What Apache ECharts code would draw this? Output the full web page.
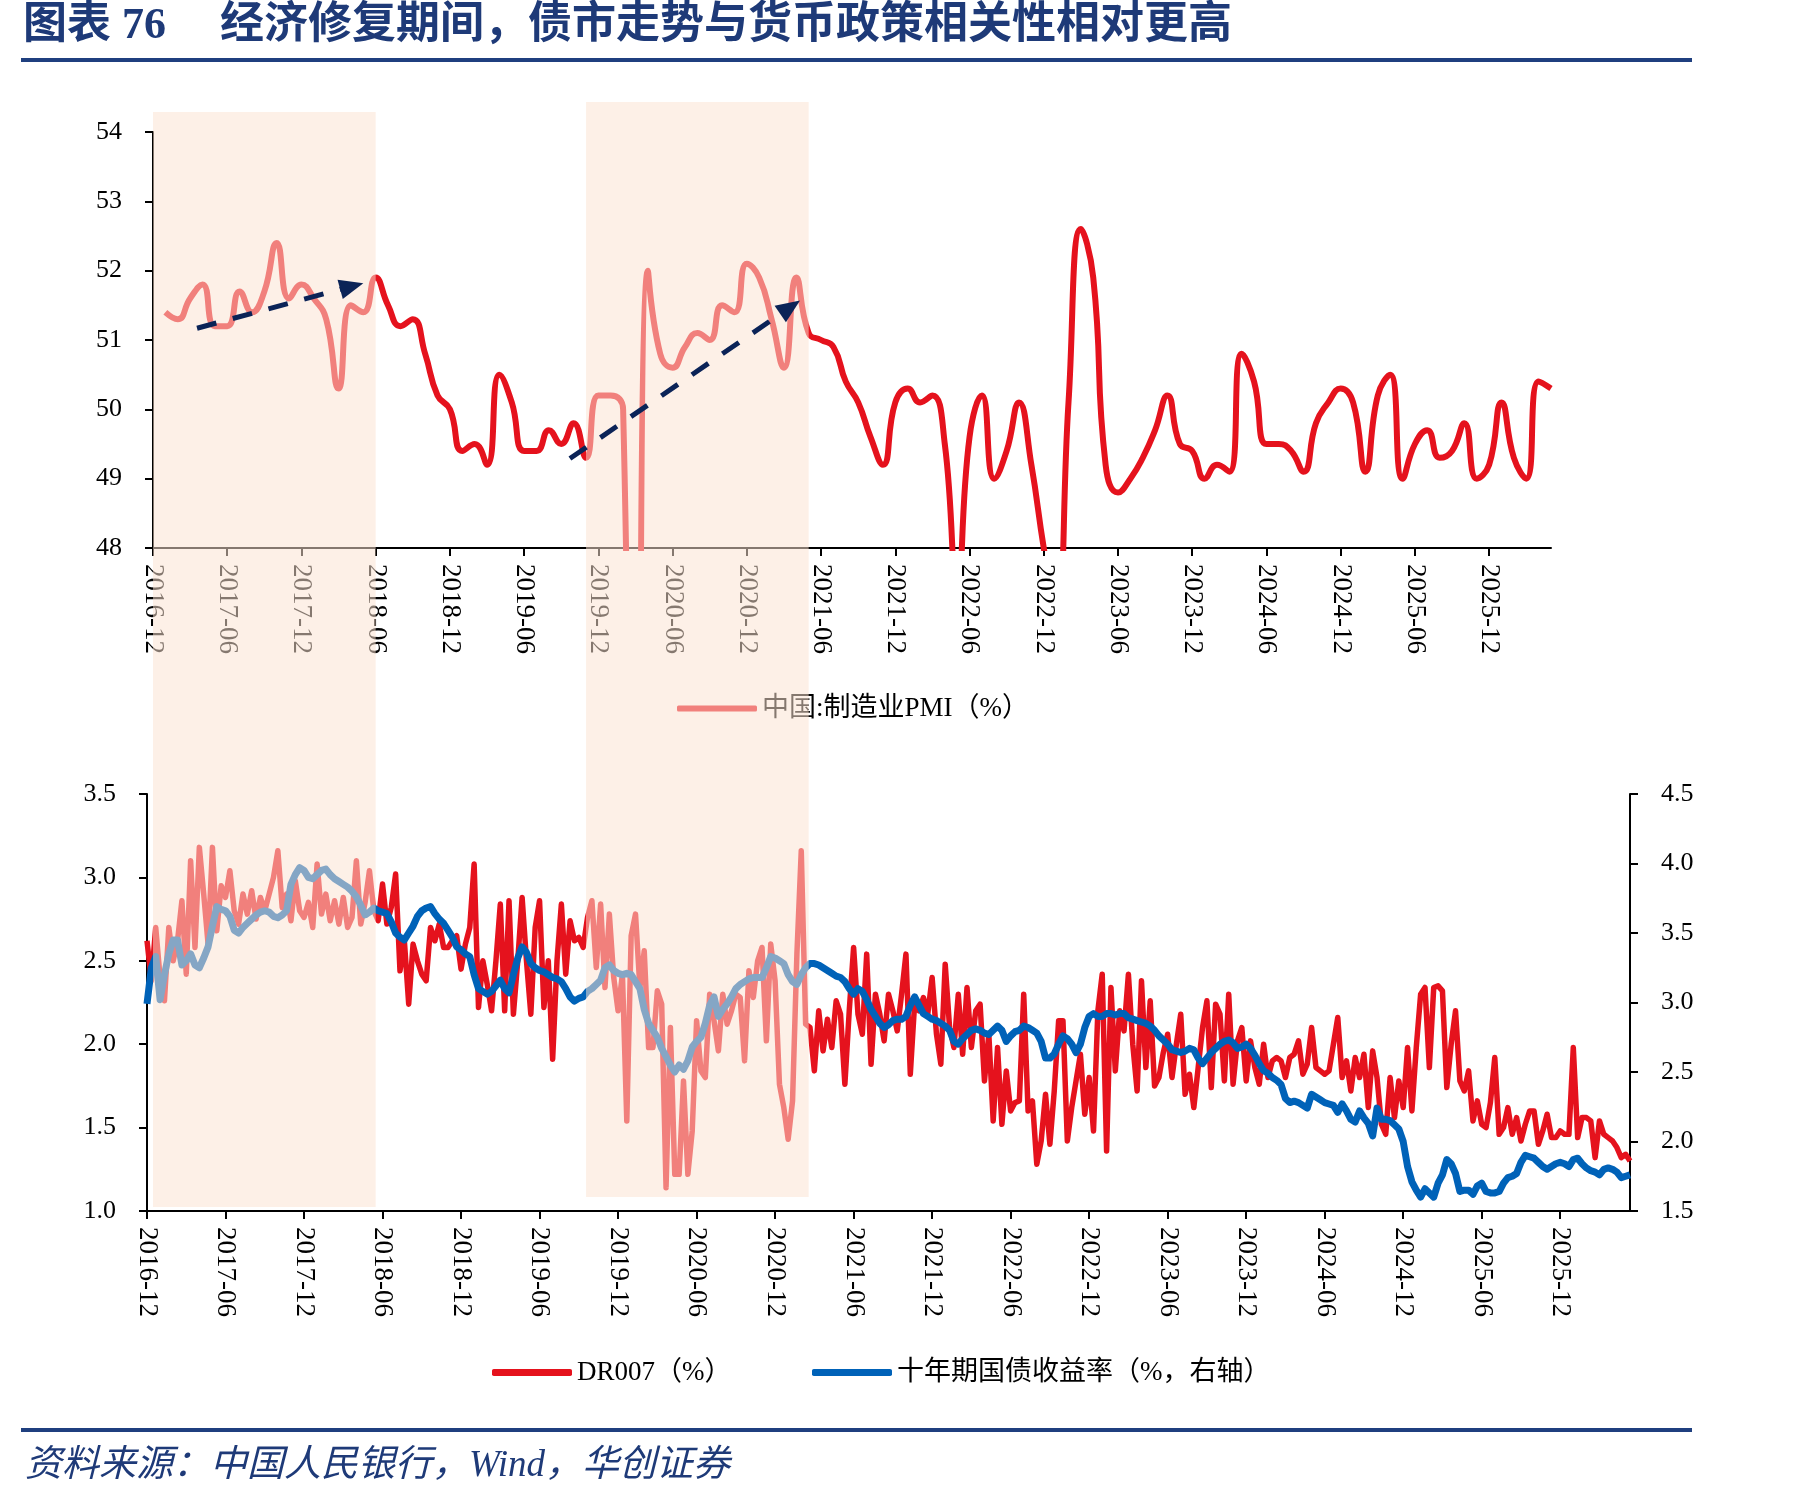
<!DOCTYPE html>
<html>
<head>
<meta charset="utf-8">
<title>经济修复期间，债市走势与货币政策相关性相对更高</title>
<script src="https://cdn.jsdelivr.net/npm/echarts@6.0.0/dist/echarts.min.js"></script>
<style>
  html, body { margin: 0; padding: 0; background: #fff; }
  #main { width: 1801px; height: 1498px; }
</style>
</head>
<body>
<div id="main"></div>
<script>
// ---------------- 数据 ----------------
// 横轴刻度标签（两张图相同）
const tickLabels = ['2016-12', '2017-06', '2017-12', '2018-06', '2018-12', '2019-06', '2019-12',
  '2020-06', '2020-12', '2021-06', '2021-12', '2022-06', '2022-12', '2023-06', '2023-12',
  '2024-06', '2024-12', '2025-06', '2025-12'];

// 上图：月度，2016-12 ~ 2026-05
const pmiMonths = [];
for (let i = 0; i < 114; i++) {
  const y = 2016 + Math.floor((11 + i) / 12);
  const m = (11 + i) % 12 + 1;
  pmiMonths.push(y + '-' + String(m).padStart(2, '0'));
}

// 中国:制造业PMI（%）
const pmi = [
  null,
  51.4, 51.3, 51.6, 51.8, 51.2, 51.2, 51.7, 51.4, 51.7, 52.4, 51.6, 51.8, // 2017
  51.6, 51.3, 50.3, 51.5, 51.4, 51.9, 51.5, 51.2, 51.3, 50.8, 50.2, 50.0, // 2018
  49.4, 49.5, 49.2, 50.5, 50.1, 49.4, 49.4, 49.7, 49.5, 49.8, 49.3, 50.2, // 2019
  50.2, 50.0, 35.7, 52.0, 50.8, 50.6, 50.9, 51.1, 51.0, 51.5, 51.4, 52.1, // 2020
  51.9, 51.3, 50.6, 51.9, 51.1, 51.0, 50.9, 50.4, 50.1, 49.6, 49.2, 50.1, // 2021
  50.3, 50.1, 50.2, 49.5, 47.4, 49.6, 50.2, 49.0, 49.4, 50.1, 49.2, 48.0, // 2022
  47.0, 50.1, 52.6, 51.9, 49.2, 48.8, 49.0, 49.3, 49.7, 50.2, 49.5, 49.4, // 2023
  49.0, 49.2, 49.1, 50.8, 50.4, 49.5, 49.5, 49.4, 49.1, 49.8, 50.1, 50.3, // 2024
  50.1, 49.1, 50.2, 50.5, 49.0, 49.5, 49.7, 49.3, 49.4, 49.8, 49.0, 49.2, // 2025
  50.1, 49.3, 49.0, 50.4, 50.3                                            // 2026
];

// 下图：每月 1/11/21 日取值，2016-12-01 ~ 2026-05-11
const rateDates = [];
for (let i = 0; i < 114; i++) {
  const ym = pmiMonths[i];
  ['01', '11', '21'].forEach(function (d) {
    if (ym === '2026-05' && d === '21') return;
    rateDates.push(ym + '-' + d);
  });
}

// DR007（%）
const dr007 = [
  2.62, 2.38, 2.70,
  // 2017
  2.40, 2.26, 2.70,  2.50, 2.62, 2.86,  2.42, 3.10, 2.58,  3.18, 2.90, 2.60,
  3.18, 2.68, 2.95,  2.88, 3.04, 2.80,  2.72, 2.90, 2.78,  2.92, 2.75, 2.88,
  2.80, 2.90, 3.00,  3.16, 2.82, 2.90,  2.74, 2.98, 2.80,  2.76, 2.85, 2.70,
  // 2018
  3.08, 2.78, 2.90,  2.74, 2.86, 2.72,  2.88, 2.70, 2.76,  3.10, 2.72, 2.85,
  3.04, 2.80, 2.74,  2.96, 2.72, 2.82,  3.02, 2.44, 2.62,  2.24, 2.60, 2.50,
  2.42, 2.38, 2.70,  2.62, 2.72, 2.58,  2.58, 2.62, 2.65,  2.45, 2.60, 2.70,
  // 2019
  3.08, 2.22, 2.50,  2.36, 2.20, 2.50,  2.84, 2.20, 2.86,  2.18, 2.50, 2.88,
  2.50, 2.18, 2.70,  2.86, 2.22, 2.50,  1.91, 2.50, 2.84,  2.42, 2.74, 2.62,
  2.64, 2.58, 2.76,  2.86, 2.46, 2.84,  2.34, 2.78, 2.40,  2.20, 2.42, 1.54,
  // 2020
  2.65, 2.78, 2.34,  2.56, 1.98, 1.98,  2.32, 2.24, 1.14,  2.10, 1.22, 1.22,
  1.78, 1.22, 1.48,  2.14, 1.84, 1.80,  2.30, 2.14, 1.96,  2.30, 2.12, 2.20,
  2.30, 2.28, 1.90,  2.44, 2.28, 2.50,  2.58, 2.02, 2.60,  2.38, 1.76, 1.62,
  // 2021
  1.43, 1.66, 2.54,  3.16, 2.12, 2.10,  1.84, 2.20, 1.96,  2.15, 1.98, 2.26,
  2.18, 1.76, 2.20,  2.58, 2.18, 2.06,  2.54, 1.88, 2.30,  2.18, 2.02, 2.30,
  2.20, 2.08, 2.30,  2.54, 1.82, 2.25,  2.20, 2.28, 2.18,  2.40, 2.06, 1.88,
  // 2022
  2.48, 2.10, 1.98,  2.30, 1.94, 2.34,  1.98, 2.20, 2.24,  1.78, 2.06, 1.54,
  1.98, 1.52, 1.84,  1.60, 1.65, 1.66,  2.30, 1.60, 1.66,  1.28, 1.42, 1.70,
  1.40, 1.72, 2.14,  2.14, 1.42, 1.62,  1.78, 1.94, 1.58,  1.80, 1.48, 2.20,
  // 2023
  2.42, 1.36, 2.34,  1.84, 2.20, 2.08,  2.42, 2.00, 1.72,  2.38, 1.86, 2.26,
  1.75, 1.80, 1.95,  2.06, 1.80, 2.00,  2.18, 1.70, 1.82,  1.62, 1.86, 2.10,
  2.26, 1.74, 2.24,  2.18, 1.78, 2.30,  1.76, 2.02, 2.10,  1.78, 2.02, 1.86,
  // 2024
  1.76, 2.00, 1.80,  1.90, 1.92, 1.90,  1.80, 1.92, 1.94,  2.02, 1.82, 1.88,
  2.10, 1.86, 1.84,  1.82, 1.84, 2.00,  2.16, 1.80, 1.90,  1.72, 1.92, 1.80,
  1.94, 1.62, 1.96,  1.80, 1.52, 1.46,  1.80, 1.56, 1.78,  1.62, 1.98, 1.60,
  // 2025
  1.98, 2.30, 2.34,  1.86, 2.34, 2.35,  2.32, 1.74, 2.00,  2.20, 1.78, 1.72,
  1.84, 1.54, 1.66,  1.52, 1.50, 1.65,  1.92, 1.46, 1.50,  1.62, 1.46, 1.56,
  1.42, 1.52, 1.60,  1.60, 1.40, 1.48,  1.58, 1.44, 1.44,  1.48, 1.46, 1.46,
  // 2026
  1.98, 1.44, 1.56,  1.56, 1.54, 1.32,  1.54, 1.46, 1.44,  1.42, 1.38, 1.32,
  1.34, 1.30
];

// 十年期国债收益率（%，右轴）
const cgb10y = [
  2.99, 3.25, 3.33,
  // 2017
  3.02, 3.20, 3.35,  3.45, 3.45, 3.27,  3.30, 3.35, 3.27,  3.25, 3.32, 3.40,
  3.55, 3.69, 3.67,  3.66, 3.62, 3.52,  3.50, 3.54, 3.57,  3.60, 3.63, 3.65,
  3.66, 3.65, 3.62,  3.61, 3.63, 3.66,  3.85, 3.92, 3.97,  3.95, 3.90, 3.89,
  // 2018
  3.92, 3.95, 3.96,  3.92, 3.89, 3.87,  3.85, 3.83, 3.80,  3.76, 3.70, 3.63,
  3.65, 3.68, 3.66,  3.65, 3.64, 3.58,  3.50, 3.47, 3.45,  3.50, 3.55, 3.62,
  3.66, 3.68, 3.69,  3.64, 3.60, 3.57,  3.52, 3.47, 3.40,  3.38, 3.35, 3.33,
  // 2019
  3.20, 3.10, 3.08,  3.06, 3.08, 3.12,  3.16, 3.10, 3.07,  3.20, 3.32, 3.40,
  3.36, 3.28, 3.25,  3.23, 3.22, 3.20,  3.18, 3.17, 3.15,  3.10, 3.04, 3.01,
  3.03, 3.04, 3.08,  3.10, 3.13, 3.16,  3.25, 3.27, 3.23,  3.21, 3.20, 3.21,
  // 2020
  3.20, 3.15, 3.10,  2.95, 2.85, 2.80,  2.75, 2.67, 2.61,  2.55, 2.50, 2.55,
  2.52, 2.58, 2.68,  2.72, 2.75, 2.85,  2.98, 3.04, 2.90,  2.95, 2.99, 3.04,
  3.10, 3.13, 3.15,  3.17, 3.18, 3.18,  3.18, 3.25, 3.33,  3.32, 3.30, 3.28,
  // 2021
  3.20, 3.15, 3.13,  3.20, 3.25, 3.28,  3.28, 3.27, 3.25,  3.23, 3.21, 3.19,
  3.18, 3.15, 3.10,  3.06, 3.10, 3.08,  3.02, 2.95, 2.90,  2.85, 2.82, 2.84,
  2.87, 2.88, 2.88,  2.90, 2.98, 3.04,  2.98, 2.92, 2.90,  2.88, 2.87, 2.85,
  // 2022
  2.83, 2.80, 2.72,  2.70, 2.74, 2.77,  2.80, 2.81, 2.80,  2.78, 2.77, 2.80,
  2.83, 2.80, 2.72,  2.76, 2.79, 2.80,  2.83, 2.82, 2.80,  2.78, 2.72, 2.60,
  2.60, 2.63, 2.70,  2.76, 2.74, 2.70,  2.64, 2.70, 2.82,  2.90, 2.92, 2.90,
  // 2023
  2.90, 2.92, 2.92,  2.91, 2.92, 2.92,  2.89, 2.88, 2.87,  2.86, 2.85, 2.83,
  2.80, 2.76, 2.73,  2.70, 2.66, 2.65,  2.64, 2.65, 2.67,  2.66, 2.60, 2.56,
  2.60, 2.64, 2.67,  2.70, 2.72, 2.73,  2.71, 2.67, 2.68,  2.70, 2.67, 2.62,
  // 2024
  2.56, 2.51, 2.49,  2.46, 2.44, 2.41,  2.31, 2.28, 2.29,  2.28, 2.26, 2.24,
  2.34, 2.32, 2.30,  2.28, 2.27, 2.26,  2.21, 2.27, 2.22,  2.16, 2.14, 2.22,
  2.17, 2.13, 2.04,  2.24, 2.16, 2.16,  2.15, 2.12, 2.09,  2.00, 1.82, 1.71,
  // 2025
  1.65, 1.60, 1.66,  1.63, 1.60, 1.70,  1.76, 1.87, 1.84,  1.77, 1.64, 1.65,
  1.65, 1.62, 1.68,  1.70, 1.64, 1.63,  1.63, 1.64, 1.70,  1.74, 1.75, 1.77,
  1.85, 1.90, 1.89,  1.88, 1.85, 1.82,  1.80, 1.82, 1.84,  1.85, 1.84, 1.82,
  // 2026
  1.87, 1.88, 1.84,  1.81, 1.79, 1.78,  1.76, 1.80, 1.81,  1.80, 1.78, 1.74,
  1.75, 1.76
];

// 阴影区间（经济修复期，按上图月份）
const shadeRanges = [['2016-12', '2018-06'], ['2019-11', '2021-05']];
// 趋势箭头：[月份序号, PMI]
const trendArrows = [
  [[3.56, 51.17], [17.0, 51.82]],
  [[33.7, 49.29], [52.3, 51.57]]
];

// ---------------- 样式 ----------------
const RED = '#E5121D';
const BLUE = '#0062B8';
const NAVY = '#1E3A78';
const SERIF = 'Liberation Serif, "Noto Sans CJK SC"';

const chart = echarts.init(document.getElementById('main'));

// 只在 6 月、12 月（每月第一个点）出刻度和标签
function showTick(i, v) {
  return tickLabels.indexOf(v.slice(0, 7)) >= 0 && (v.length === 7 || v.slice(8) === '01');
}

function xAxisStyle(fontSize) {
  return {
    axisLine: { show: true, lineStyle: { color: '#000', width: 2 } },
    axisTick: { show: true, length: 8, interval: showTick, lineStyle: { color: '#000', width: 2 } },
    axisLabel: {
      rotate: -90, margin: 16, fontSize: fontSize, fontFamily: SERIF, color: '#000',
      interval: showTick,
      formatter: function (v) { return v.slice(0, 7); }
    },
    splitLine: { show: false }
  };
}

function yAxisStyle(extra) {
  return Object.assign({
    type: 'value',
    axisLine: { show: true, lineStyle: { color: '#000', width: 2 } },
    axisTick: { show: true, length: 8, lineStyle: { color: '#000', width: 2 } },
    axisLabel: { margin: 31, fontSize: 26, fontFamily: SERIF, color: '#000' },
    splitLine: { show: false }
  }, extra);
}

const oneDecimal = { margin: 31, fontSize: 26, fontFamily: SERIF, color: '#000', formatter: function (v) { return v.toFixed(1); } };
const legendText = { fontSize: 27, fontFamily: SERIF, color: '#000' };

const option = {
  animation: false,
  backgroundColor: '#fff',
  grid: [
    { left: 153, top: 132, width: 1398, height: 416 },
    { left: 147, top: 794, width: 1483, height: 417 }
  ],
  legend: [
    { data: ['中国:制造业PMI（%）'], left: 677, top: 695, padding: 0, icon: 'roundRect', itemWidth: 80, itemHeight: 6, selectedMode: false, textStyle: legendText },
    { data: ['DR007（%）'], left: 492, top: 1359, padding: 0, icon: 'roundRect', itemWidth: 80, itemHeight: 7, selectedMode: false, textStyle: legendText },
    { data: ['十年期国债收益率（%，右轴）'], left: 812, top: 1359, padding: 0, icon: 'roundRect', itemWidth: 80, itemHeight: 7, selectedMode: false, textStyle: legendText }
  ],
  xAxis: [
    Object.assign({ type: 'category', gridIndex: 0, data: pmiMonths, boundaryGap: false }, xAxisStyle(27)),
    Object.assign({ type: 'category', gridIndex: 1, data: rateDates, boundaryGap: false }, xAxisStyle(27))
  ],
  yAxis: [
    yAxisStyle({ gridIndex: 0, min: 48, max: 54, interval: 1 }),
    yAxisStyle({ gridIndex: 1, min: 1, max: 3.5, interval: 0.5, axisLabel: oneDecimal }),
    yAxisStyle({ gridIndex: 1, position: 'right', min: 1.5, max: 4.5, interval: 0.5, axisLabel: oneDecimal })
  ],
  series: [
    {
      name: '中国:制造业PMI（%）', type: 'line', xAxisIndex: 0, yAxisIndex: 0,
      data: pmi, smooth: true, showSymbol: false,
      itemStyle: { color: RED }, lineStyle: { color: RED, width: 6 }
    },
    {
      name: 'DR007（%）', type: 'line', xAxisIndex: 1, yAxisIndex: 1,
      data: dr007, showSymbol: false,
      itemStyle: { color: RED }, lineStyle: { color: RED, width: 5.5, join: 'round' }
    },
    {
      name: '十年期国债收益率（%，右轴）', type: 'line', xAxisIndex: 1, yAxisIndex: 2,
      data: cgb10y, showSymbol: false,
      itemStyle: { color: BLUE }, lineStyle: { color: BLUE, width: 7, join: 'round' }
    }
  ]
};

chart.setOption(option);

// 上图中按（月份序号, 数值）换算像素，月份可以是小数
function topPoint(m, v) {
  const i = Math.floor(m);
  const a = chart.convertToPixel({ xAxisIndex: 0, yAxisIndex: 0 }, [i, v]);
  const b = chart.convertToPixel({ xAxisIndex: 0, yAxisIndex: 0 }, [i + 1, v]);
  return [a[0] + (b[0] - a[0]) * (m - i), a[1]];
}

function buildGraphic() {
  const g = [];
  // 标题
  g.push({ type: 'text', x: 23, y: 27, silent: true,
    style: { text: '图表 76', fontSize: 44, fontWeight: 'bold', fontFamily: SERIF, fill: NAVY, verticalAlign: 'middle' } });
  g.push({ type: 'text', x: 220, y: 27, silent: true,
    style: { text: '经济修复期间，债市走势与货币政策相关性相对更高', fontSize: 44, fontWeight: 'bold', fontFamily: SERIF, fill: NAVY, verticalAlign: 'middle' } });
  g.push({ type: 'rect', silent: true, shape: { x: 21, y: 58, width: 1671, height: 4 }, style: { fill: '#1F3F7F' } });
  // 来源
  g.push({ type: 'rect', silent: true, shape: { x: 21, y: 1428, width: 1671, height: 4 }, style: { fill: '#1F3F7F' } });
  g.push({ type: 'text', x: 25, y: 1466, silent: true,
    style: { text: '资料来源：中国人民银行，Wind，华创证券', fontSize: 37, fontStyle: 'italic', fontFamily: SERIF, fill: NAVY, verticalAlign: 'middle' } });

  // 半透明阴影，覆盖在两张图上
  const shadeTops = [112, 102], shadeBottoms = [1207, 1197];
  shadeRanges.forEach(function (r, k) {
    const x0 = chart.convertToPixel({ xAxisIndex: 0 }, r[0]);
    const x1 = chart.convertToPixel({ xAxisIndex: 0 }, r[1]);
    g.push({ type: 'rect', silent: true, z: 100,
      shape: { x: x0, y: shadeTops[k], width: x1 - x0, height: shadeBottoms[k] - shadeTops[k] },
      style: { fill: 'rgba(251,226,210,0.53)' } });
  });

  // 虚线箭头
  trendArrows.forEach(function (a) {
    const p0 = topPoint(a[0][0], a[0][1]);
    const p1 = topPoint(a[1][0], a[1][1]);
    const dx = p1[0] - p0[0], dy = p1[1] - p0[1];
    const len = Math.sqrt(dx * dx + dy * dy);
    const ux = dx / len, uy = dy / len;
    const headLen = 24, headHalf = 10;
    const base = [p1[0] - ux * headLen, p1[1] - uy * headLen];
    g.push({ type: 'polyline', silent: true, z: 110,
      shape: { points: [p0, [base[0] + ux * 2, base[1] + uy * 2]] },
      style: { stroke: '#0B2357', lineWidth: 5, lineDash: [20, 17], fill: null } });
    g.push({ type: 'polygon', silent: true, z: 110,
      shape: { points: [p1, [base[0] - uy * headHalf, base[1] + ux * headHalf], [base[0] + uy * headHalf, base[1] - ux * headHalf]] },
      style: { fill: '#0B2357' } });
  });
  return g;
}

chart.setOption({ graphic: buildGraphic() });
</script>
</body>
</html>
